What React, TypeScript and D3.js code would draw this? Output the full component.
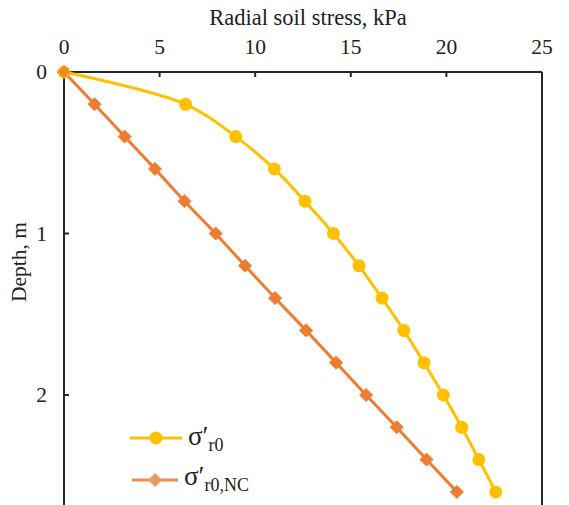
import React from 'react';
import * as d3 from 'd3';

// depth below surface, m
const depths = [0, 0.2, 0.4, 0.6, 0.8, 1.0, 1.2, 1.4, 1.6, 1.8, 2.0, 2.2, 2.4, 2.6];
// sigma'r0 (yellow, circles)
const sigmaR0 = [0, 6.36, 8.98, 11.0, 12.6, 14.09, 15.43, 16.63, 17.77, 18.83, 19.84, 20.8, 21.7, 22.58];
// sigma'r0,NC (orange, diamonds)
const sigmaR0NC = [0, 1.6, 3.17, 4.76, 6.3, 7.93, 9.47, 11.04, 12.66, 14.23, 15.8, 17.4, 18.96, 20.55];

const xTicks = [0, 5, 10, 15, 20, 25];
const yTicks = [0, 1, 2];

const W = 569;
const H = 505;
const font = '"Liberation Serif", "DejaVu Serif", serif';
const yellow = '#FFC000';
const orange = '#ED7D31';
const axisColor = '#262626';

export default function App() {
  const x = d3.scaleLinear().domain([0, 25]).range([64, 542]);
  // plot continues below the picture's lower edge (cropped, like the reference)
  const y = d3.scaleLinear().domain([0, 3]).range([72, 556.5]);

  const pts1: [number, number][] = depths.map((d, i) => [x(sigmaR0[i]), y(d)]);
  const pts2: [number, number][] = depths.map((d, i) => [x(sigmaR0NC[i]), y(d)]);

  const smooth = d3.line().curve(d3.curveCatmullRom.alpha(0.5));
  const straight = d3.line();

  const diamond = (cx: number, cy: number, r: number) =>
    `M${cx},${cy - r}L${cx + r},${cy}L${cx},${cy + r}L${cx - r},${cy}Z`;

  const [x0, x1] = x.range();
  const yTop = y(0);

  return (
    <svg
      width={W}
      height={H}
      style={{ position: 'absolute', left: 0, top: 0, background: '#fff' }}
      fontFamily={font}
    >
      {/* axes frame */}
      <line x1={x0} x2={x1} y1={yTop} y2={yTop} stroke={axisColor} strokeWidth={2} />
      <line x1={x0} x2={x0} y1={yTop} y2={H} stroke={axisColor} strokeWidth={2} />
      <line x1={x1} x2={x1} y1={yTop} y2={H} stroke={axisColor} strokeWidth={2} />

      {xTicks.map(t => (
        <g key={'x' + t}>
          <line x1={x(t)} x2={x(t)} y1={yTop} y2={yTop + 5} stroke={axisColor} strokeWidth={2} />
          <text x={x(t)} y={54} textAnchor="middle" fontSize={21.5} fill="#222">{t}</text>
        </g>
      ))}
      {yTicks.map(t => (
        <g key={'y' + t}>
          <line x1={x0} x2={x0 + 5} y1={y(t)} y2={y(t)} stroke={axisColor} strokeWidth={2} />
          <text x={47} y={y(t) + 7} textAnchor="end" fontSize={21.5} fill="#222">{t}</text>
        </g>
      ))}

      <text x={308} y={25} textAnchor="middle" fontSize={22.5} fill="#222">Radial soil stress, kPa</text>
      <text
        transform="translate(26,262) rotate(-90)"
        textAnchor="middle"
        fontSize={21.5}
        fill="#222"
      >Depth, m</text>

      {/* series */}
      <path d={straight(pts2) || ''} fill="none" stroke={orange} strokeWidth={3} />
      {pts2.map(([px, py], i) => (
        <path key={'d' + i} d={diamond(px, py, 6.5)} fill={orange} stroke={orange} strokeWidth={1} />
      ))}
      <path d={smooth(pts1) || ''} fill="none" stroke={yellow} strokeWidth={3} />
      {pts1.map(([px, py], i) => (
        <circle key={'c' + i} cx={px} cy={py} r={6.5} fill={yellow} />
      ))}
      {/* origin overlap: orange diamond drawn on top at the start */}
      <path d={diamond(pts2[0][0], pts2[0][1], 6.5)} fill={orange} opacity={0.85} />

      {/* legend */}
      <line x1={130} x2={182} y1={438} y2={438} stroke={yellow} strokeWidth={3} />
      <circle cx={156} cy={438} r={6.5} fill={yellow} />
      <text x={188} y={445} fontSize={27} fill="#222">
        σ′<tspan fontSize={18} dy={6}>r0</tspan>
      </text>

      <line x1={132} x2={178} y1={480} y2={480} stroke="#EE8A4A" strokeWidth={3} />
      <path d={diamond(155, 480, 7)} fill="#EE9A5E" />
      <text x={184} y={485} fontSize={27} fill="#222">
        σ′<tspan fontSize={18} dy={6}>r0,NC</tspan>
      </text>
    </svg>
  );
}
